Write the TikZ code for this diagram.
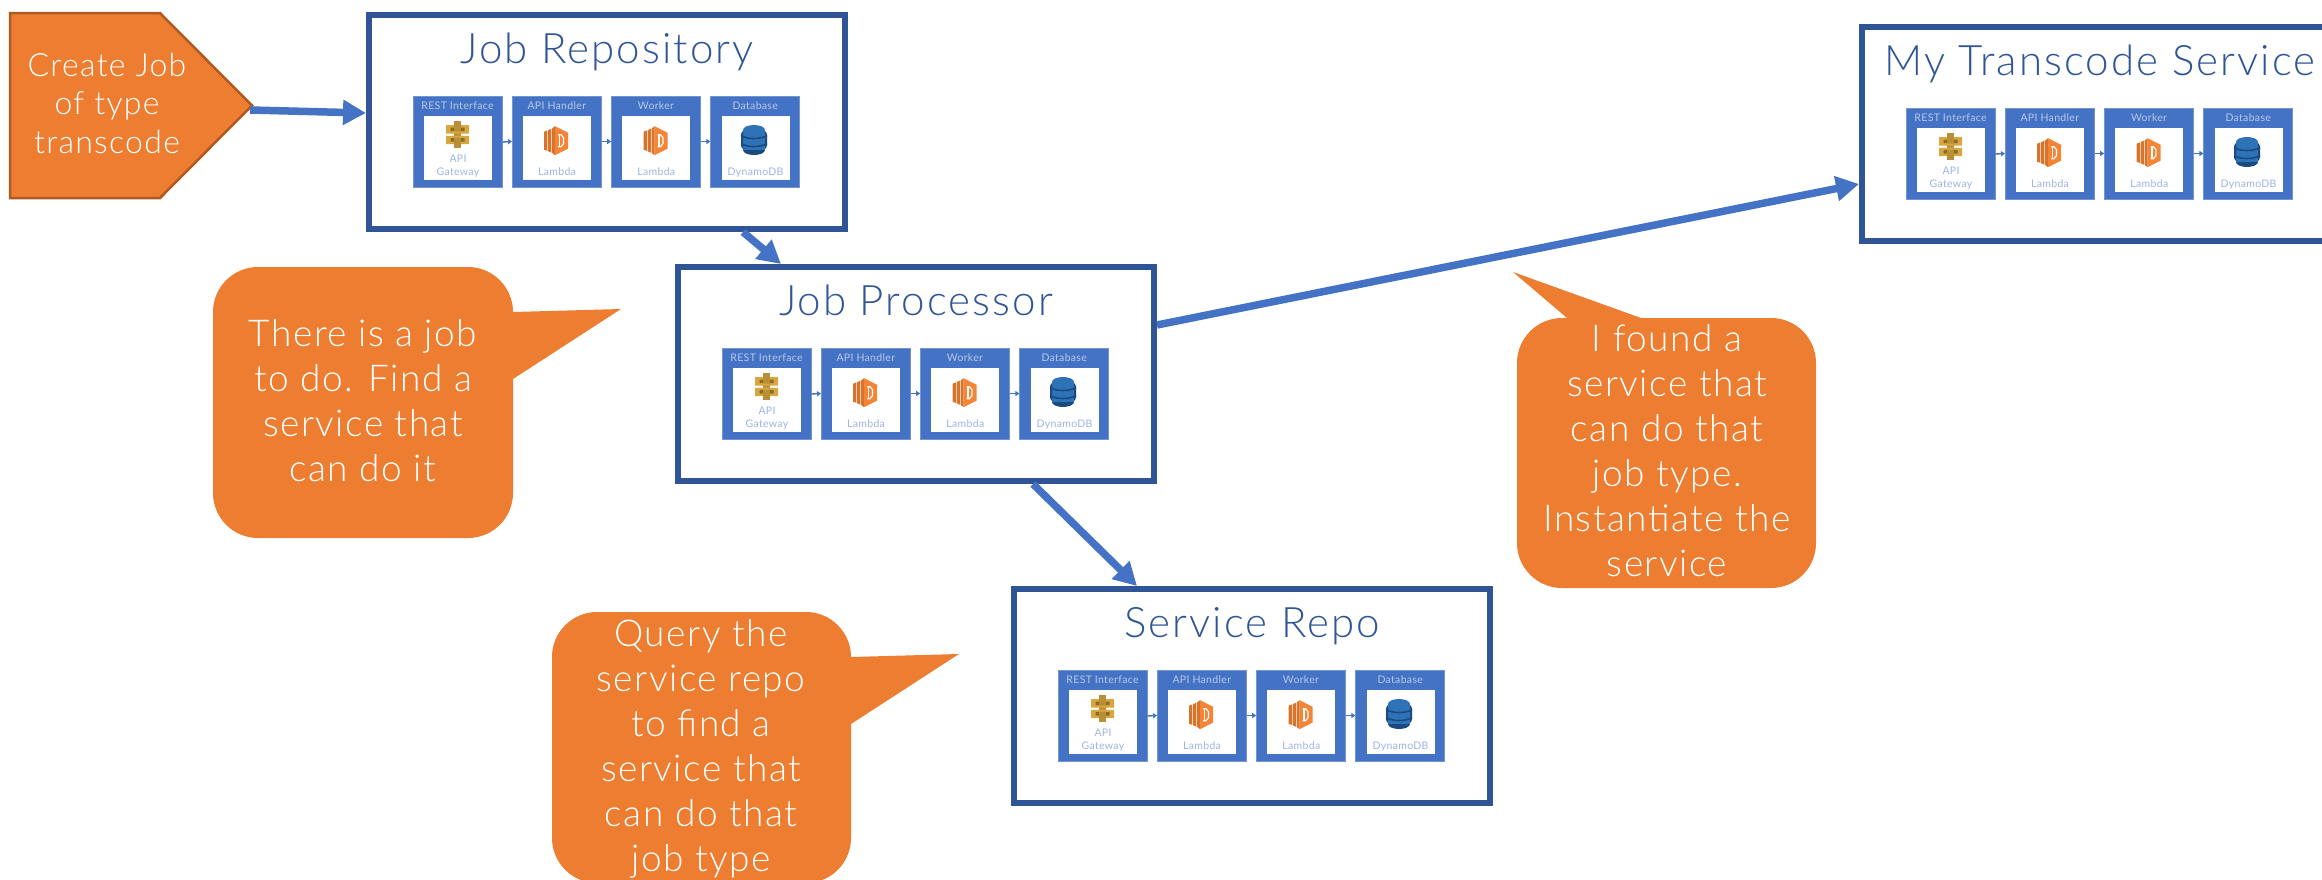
\documentclass[tikz,border=0pt]{standalone}
\usepackage{fontspec}
\setmainfont{Lato}[UprightFont=* Light]
\newfontfamily\smallfam{Lato}[LetterSpace=3]
\newfontfamily\titlefam{Lato}[UprightFont=* Light,LetterSpace=5]
\newfontfamily\bodyfam{Lato}[UprightFont=* Light,LetterSpace=4]
\usetikzlibrary{arrows.meta,calc}
\definecolor{frameblue}{HTML}{2F5597}
\definecolor{panelblue}{HTML}{4472C4}
\definecolor{orangefill}{HTML}{ED7D31}
\definecolor{orangeedge}{HTML}{AE5A21}
\definecolor{headertext}{HTML}{B9CAEA}
\definecolor{labeltext}{HTML}{9DB4E2}
\definecolor{goldA}{HTML}{D9A741}
\definecolor{goldB}{HTML}{8C6D1F}
\definecolor{lamA}{HTML}{F58536}
\definecolor{lamB}{HTML}{D9732A}
\definecolor{dynA}{HTML}{2E73B8}
\definecolor{dynB}{HTML}{1A4A7E}
\tikzset{
  framebox/.style={draw=frameblue,line width=6.4pt,fill=white,minimum width=475.6pt,minimum height=213.6pt,inner sep=0pt},
  titletext/.style={anchor=base,text=frameblue,font=\titlefam\fontsize{42}{46}\selectfont,inner sep=0pt},
  panelbox/.style={fill=panelblue,draw=panelblue!75!white,line width=.6pt,minimum width=89pt,minimum height=91pt,inner sep=0pt},
  innerbox/.style={fill=white,minimum width=68pt,minimum height=64pt,inner sep=0pt},
  headerlabel/.style={anchor=base,text=headertext,font=\smallfam\fontsize{10.5}{12}\selectfont,inner sep=0pt},
  iconlabel/.style={anchor=base,text=labeltext,font=\smallfam\fontsize{10.5}{13}\selectfont,inner sep=0pt,align=center},
  tinyarrow/.style={draw=panelblue,line width=1.4pt,-{Triangle[length=4pt,width=5pt]},shorten >=0pt},
  bigarrow/.style={draw=panelblue,line width=7.5pt,-{Triangle[length=23pt,width=24pt]}},
  callout/.style={fill=orangefill},
  calltext/.style={anchor=base,text=white,font=\bodyfam\fontsize{37}{45}\selectfont,align=center,inner sep=0pt},
}
\newcommand{\iconapi}[2]{\begin{scope}[shift={(#1,#2)}]
  \fill[goldA] (-11.5,-9.5) rectangle (-2,-1.2) (2,-9.5) rectangle (11.5,-1.2) (-11.5,1.2) rectangle (-2,9.5) (2,1.2) rectangle (11.5,9.5);
  \fill[goldB] (-3.5,-7) rectangle (-7,-3.5) (3.5,-7) rectangle (7,-3.5) (-3.5,3.5) rectangle (-7,7) (3.5,3.5) rectangle (7,7);
  \fill[goldA!85!black] (-3.5,-13.5) rectangle (3.5,13.5);
  \fill[goldA] (-5,-3) rectangle (5,-1) (-5,1) rectangle (5,3);
\end{scope}}
\newcommand{\iconlam}[2]{\begin{scope}[shift={(#1,#2)}]
  \fill[lamB] (-12,-9) -- (-8.6,-10.2) -- (-8.6,10.2) -- (-12,9) -- cycle;
  \fill[lamB] (-7.8,-10.6) -- (-4.6,-12) -- (-4.6,12) -- (-7.8,10.6) -- cycle;
  \fill[lamB] (-3.8,-12.2) -- (-1,-14.5) -- (-1,14.5) -- (-3.8,12.2) -- cycle;
  \fill[lamA] (-1,-14.5) -- (12,-8) -- (12,8) -- (-1,14.5) -- cycle;
  \draw[white,line width=1.1pt] (2,-6) -- (5,-6) -- (7.5,-3) -- (7.5,3) -- (5,6) -- (2,6);
  \draw[white,line width=1.1pt] (3.5,-6) -- (3.5,6);
\end{scope}}
\newcommand{\icondyn}[2]{\begin{scope}[shift={(#1,#2)}]
  \fill[dynB] (0,10) ellipse[x radius=11,y radius=5];
  \fill[dynA] (-11,-10) rectangle (11,10);
  \fill[dynA] (0,-10) ellipse[x radius=11,y radius=5];
  \fill[dynB] (-13,-5) .. controls (-13,-7) and (-12,-8) .. (-11,-9) -- (-11,9) .. controls (-12,8) and (-13,7) .. (-13,5) -- cycle;
  \fill[dynB] (13,-5) .. controls (13,-7) and (12,-8) .. (11,-9) -- (11,9) .. controls (12,8) and (13,7) .. (13,5) -- cycle;
  \draw[dynB,line width=1.6pt] (-13,-4.5) .. controls (-7,-.5) and (7,-.5) .. (13,-4.5);
  \draw[dynB,line width=1.6pt] (-13,3.5) .. controls (-7,7.5) and (7,7.5) .. (13,3.5);
\end{scope}}
\newcommand{\svcstack}[1]{\begin{scope}[shift={(#1.north west)},name prefix=#1-]
  \node[panelbox] (p1) at (91.5,130) {};
  \node[panelbox] (p2) at (190.8,129.5) {};
  \node[panelbox] (p3) at (290,129.5) {};
  \node[panelbox] (p4) at (389.2,129.5) {};
  \node[innerbox] (i1) at (92,136) {};
  \node[innerbox] (i2) at (191,135.5) {};
  \node[innerbox] (i3) at (290.3,135.5) {};
  \node[innerbox] (i4) at (389.5,135.5) {};
  \node[headerlabel] (h1) at (91.5,97) {REST Interface};
  \node[headerlabel] (h2) at (190.8,97) {API Handler};
  \node[headerlabel] (h3) at (290,97) {Worker};
  \node[headerlabel] (h4) at (389.2,97) {Database};
  \node[iconlabel] (l1) at (92,150) {API};
  \node[iconlabel] (l1b) at (92,163) {Gateway};
  \node[iconlabel] (l2) at (191,163) {Lambda};
  \node[iconlabel] (l3) at (290.3,163) {Lambda};
  \node[iconlabel] (l4) at (389.5,163) {DynamoDB};
  \iconapi{91.7}{122.7}
  \iconlam{190}{128.7}
  \iconlam{289.5}{128.7}
  \icondyn{388}{128}
  \draw[tinyarrow] (p1.east) -- (p2.west);
  \draw[tinyarrow] (p2.east) -- (p3.west);
  \draw[tinyarrow] (p3.east) -- (p4.west);
\end{scope}}
\begin{document}
\begin{tikzpicture}[x=1pt,y=-1pt]
\useasboundingbox (0,0) rectangle (2322,879);
\clip (0,0) rectangle (2322,879);
% callouts
\fill[callout] (258,267) -- (468,267) arc[start angle=90,end angle=0,x radius=45,y radius=-45] -- (513,312) -- (621,309) -- (513,379) -- (513,493) arc[start angle=0,end angle=-90,x radius=45,y radius=-45] -- (258,538) arc[start angle=270,end angle=180,x radius=45,y radius=-45] -- (213,312) arc[start angle=180,end angle=90,x radius=45,y radius=-45] -- cycle;
\node[calltext] (c1) at (363,481) {There is a job\\to do. Find a\\service that\\can do it};
\fill[callout] (1562,318) -- (1567,318) -- (1513,272) -- (1641,318) -- (1771,318) arc[start angle=90,end angle=0,x radius=45,y radius=-45] -- (1816,543) arc[start angle=0,end angle=-90,x radius=45,y radius=-45] -- (1562,588) arc[start angle=270,end angle=180,x radius=45,y radius=-45] -- (1517,363) arc[start angle=180,end angle=90,x radius=45,y radius=-45] -- cycle;
\node[calltext] (c2) at (1667,576) {I found a\\service that\\can do that\\job type.\\Instantiate the\\service};
\fill[callout] (597,612) -- (806,612) arc[start angle=90,end angle=0,x radius=45,y radius=-45] -- (851,657) -- (959,654) -- (851,724) -- (851,838) arc[start angle=0,end angle=-90,x radius=45,y radius=-45] -- (597,883) arc[start angle=270,end angle=180,x radius=45,y radius=-45] -- (552,657) arc[start angle=180,end angle=90,x radius=45,y radius=-45] -- cycle;
\node[calltext] (c3) at (701,871) {Query the\\service repo\\to find a\\service that\\can do that\\job type};
% pentagon
\filldraw[fill=orangefill,draw=orangeedge,line width=2.5pt,line join=miter] (10,13) -- (160,13) -- (252,105.5) -- (160,198) -- (10,198) -- cycle;
\coordinate (ptip) at (250,110);
\node[calltext,font=\bodyfam\fontsize{32}{38.5}\selectfont] (ctext) at (107,153) {Create Job\\of type\\transcode};
% frames
\node[framebox,anchor=north west] (jobrepo) at (366,12) {};
\node[framebox,anchor=north west] (jobproc) at (675,264) {};
\node[framebox,anchor=north west] (svcrepo) at (1011,586) {};
\node[framebox,anchor=north west] (mysvc) at (1859,24) {};
\node[titletext] (tjobrepo) at ($(jobrepo.north)+(0,51)$) {Job Repository};
\node[titletext] (tjobproc) at ($(jobproc.north)+(0,51)$) {Job Processor};
\node[titletext] (tsvcrepo) at ($(svcrepo.north)+(0,51)$) {Service Repo};
\node[titletext] (tmysvc) at ($(mysvc.north)+(0,51)$) {My Transcode Service};
\svcstack{jobrepo}
\svcstack{jobproc}
\svcstack{svcrepo}
\svcstack{mysvc}
% connectors
\draw[bigarrow] (ptip) -- ([yshift=-101pt]jobrepo.north west);
\draw[bigarrow] ([xshift=377pt]jobrepo.south west) -- ([xshift=106pt]jobproc.north west);
\draw[bigarrow] ([xshift=358pt]jobproc.south west) -- ([xshift=126pt]svcrepo.north west);
\draw[bigarrow] ([yshift=159pt]jobproc.south east) -- ([yshift=60pt]mysvc.south west);
\end{tikzpicture}
\end{document}
